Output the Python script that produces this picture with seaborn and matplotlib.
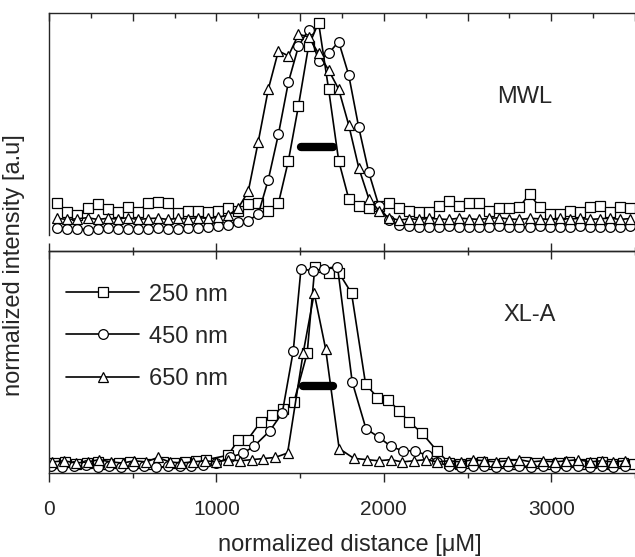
import numpy as np
import pandas as pd
import matplotlib
matplotlib.use('Agg')
import matplotlib.pyplot as plt
from matplotlib.ticker import MultipleLocator
import seaborn as sns

sns.set_style('ticks')
plt.rcParams['font.family'] = ['Liberation Sans', 'DejaVu Sans']

# --- MWL panel (top), intensities normalised to the panel height ---
x_mwl = np.arange(50, 3500, 60)
mwl_250 = [0.142, 0.105, 0.089, 0.121, 0.138, 0.116, 0.105, 0.126, 0.105, 0.142, 0.148, 0.142,
           0.10, 0.11, 0.108, 0.105, 0.11, 0.121,
           0.11, 0.138, 0.142, 0.11, 0.142, 0.335, 0.582, 0.85, 0.957, 0.657, 0.335, 0.164, 0.132,
           0.121, 0.132, 0.142, 0.121, 0.11, 0.105, 0.105, 0.132, 0.153, 0.132, 0.142, 0.142, 0.11,
           0.121, 0.121, 0.126, 0.185, 0.126, 0.094, 0.094, 0.11, 0.105, 0.126, 0.132, 0.105, 0.126, 0.121]
mwl_450 = [0.03, 0.025, 0.028, 0.024, 0.026, 0.03, 0.027, 0.025, 0.028, 0.026, 0.03, 0.028, 0.026,
           0.03, 0.033, 0.035, 0.04,
           0.046, 0.057, 0.064, 0.094, 0.25, 0.453, 0.689, 0.85, 0.925, 0.786, 0.818, 0.871, 0.721,
           0.485, 0.282, 0.132, 0.067, 0.046,
           0.04, 0.038, 0.035, 0.037, 0.04, 0.036, 0.038, 0.035, 0.037, 0.04, 0.036, 0.035, 0.038,
           0.04, 0.036, 0.035, 0.038, 0.04, 0.037, 0.035, 0.038, 0.036, 0.04]
mwl_650 = [0.075, 0.07, 0.073, 0.078, 0.07, 0.075, 0.072, 0.078, 0.07, 0.074, 0.076, 0.07, 0.075,
           0.073, 0.078, 0.075, 0.08,
           0.089, 0.121, 0.196, 0.421, 0.657, 0.829, 0.807, 0.904, 0.893, 0.818, 0.743, 0.657, 0.496,
           0.303, 0.164, 0.11, 0.078, 0.067,
           0.073, 0.07, 0.075, 0.072, 0.07, 0.076, 0.073, 0.07, 0.075, 0.078, 0.072, 0.07, 0.075,
           0.073, 0.07, 0.076, 0.072, 0.075, 0.07, 0.073, 0.076, 0.07, 0.074]

# --- XL-A panel (bottom) ---
x_xla_250 = list(range(30, 1000, 65)) + [1070, 1130, 1186, 1264, 1329, 1400, 1463, 1542, 1588, 1673,
                                         1733, 1807, 1891, 1962, 2026, 2091, 2151, 2228, 2317] \
    + list(range(2390, 3500, 65))
xla_250 = [0.045, 0.05, 0.04, 0.045, 0.05, 0.04, 0.045, 0.05, 0.045, 0.04, 0.05, 0.045, 0.05, 0.055, 0.06,
           0.08, 0.15, 0.15, 0.23, 0.26, 0.29, 0.32, 0.54, 0.93, 0.90,
           0.90, 0.81, 0.40, 0.34, 0.33, 0.28, 0.23, 0.18, 0.10,
           0.045, 0.04, 0.045, 0.05, 0.04, 0.045, 0.04, 0.05, 0.045, 0.04, 0.045, 0.05, 0.04, 0.045,
           0.05, 0.04, 0.045, 0.04]
x_xla_450 = list(range(10, 950, 70)) + [1000, 1080, 1160, 1224, 1319, 1393, 1459, 1505, 1578, 1642,
                                        1723, 1811, 1893, 1972, 2042, 2112, 2185, 2255, 2320] \
    + list(range(2390, 3500, 70))
xla_450 = [0.03, 0.025, 0.03, 0.035, 0.025, 0.03, 0.028, 0.032, 0.03, 0.025, 0.03, 0.033, 0.03, 0.035,
           0.045, 0.07, 0.09, 0.12, 0.19, 0.27, 0.55, 0.92, 0.91, 0.92,
           0.93, 0.41, 0.20, 0.16, 0.12, 0.10, 0.10, 0.08, 0.05,
           0.03, 0.028, 0.032, 0.03, 0.025, 0.03, 0.033, 0.028, 0.03, 0.025, 0.03, 0.032, 0.028, 0.03,
           0.025, 0.03]
x_xla_650 = list(range(20, 1400, 70)) + [1425, 1518, 1584, 1652, 1733, 1821] + list(range(1900, 3500, 70))
xla_650 = [0.05, 0.055, 0.045, 0.05, 0.06, 0.05, 0.045, 0.055, 0.05, 0.07, 0.05, 0.045, 0.05, 0.055,
           0.05, 0.06, 0.055, 0.06, 0.065, 0.07,
           0.09, 0.54, 0.81, 0.56, 0.11, 0.066,
           0.06, 0.055, 0.06, 0.05, 0.055, 0.06, 0.05, 0.055, 0.05, 0.06, 0.055, 0.05, 0.055, 0.06,
           0.05, 0.055, 0.05, 0.055, 0.06, 0.05, 0.055, 0.05, 0.055]

labels = ['250 nm', '450 nm', '650 nm']
markers = ['s', 'o', '^']
msizes = [6.5, 7, 7.5]

# thick horizontal bars (start, end, level)
bar_mwl = (1505, 1695, 0.395)
bar_xla = (1515, 1695, 0.39)

fig = plt.figure(figsize=(6.35, 5.57), dpi=100)
ax1 = fig.add_axes([49 / 635, 1 - 235 / 557, 586 / 635, 222 / 557])
ax2 = fig.add_axes([49 / 635, 1 - 473 / 557, 586 / 635, 222 / 557])

series_top = [(x_mwl, mwl_250), (x_mwl, mwl_450), (x_mwl, mwl_650)]
series_bot = [(x_xla_250, xla_250), (x_xla_450, xla_450), (x_xla_650, xla_650)]

for ax, series, show in [(ax1, series_top, False), (ax2, series_bot, True)]:
    for (xs, ys), lab, mk, ms in zip(series, labels, markers, msizes):
        df = pd.DataFrame({'x': xs, 'y': ys})
        sns.lineplot(data=df, x='x', y='y', ax=ax, color='black', linewidth=1.2,
                     marker=mk, markersize=ms, markerfacecolor='white',
                     markeredgecolor='black', markeredgewidth=0.9,
                     label=lab if show else None, legend=False)
    ax.set_xlim(0, 3500)
    ax.set_ylim(0, 1)
    ax.set_xlabel('')
    ax.set_ylabel('')
    ax.set_yticks([])
    ax.spines['right'].set_visible(False)
    for s in ax.spines.values():
        s.set_linewidth(1.0)

ax1.plot(bar_mwl[:2], [bar_mwl[2]] * 2, color='black', lw=6, solid_capstyle='round')
ax2.plot(bar_xla[:2], [bar_xla[2]] * 2, color='black', lw=6, solid_capstyle='round')

# top panel: ticks only along the top edge
ax1.spines['bottom'].set_visible(False)
ax1.xaxis.set_major_locator(MultipleLocator(500))
ax1.xaxis.set_minor_locator(MultipleLocator(250))
ax1.tick_params(axis='x', which='both', direction='in', top=True, bottom=False,
                labelbottom=False, labeltop=False, width=1.0)
ax1.tick_params(axis='x', which='major', length=6)
ax1.tick_params(axis='x', which='minor', length=3.4)

# bottom panel
ax2.xaxis.set_major_locator(MultipleLocator(1000))
ax2.xaxis.set_minor_locator(MultipleLocator(500))
ax2.tick_params(axis='x', which='both', direction='out', top=False, bottom=True, width=1.0,
                labelsize=15, pad=13)
ax2.tick_params(axis='x', which='major', length=6.5)
ax2.tick_params(axis='x', which='minor', length=3.6)
sec = ax2.secondary_xaxis('top')
sec.xaxis.set_major_locator(MultipleLocator(1000))
sec.xaxis.set_minor_locator(MultipleLocator(500))
sec.tick_params(axis='x', which='both', direction='inout', labeltop=False, width=1.0)
sec.tick_params(axis='x', which='major', length=11.5)
sec.tick_params(axis='x', which='minor', length=6)
sec.spines['top'].set_linewidth(1.0)

ax1.text(2842, 0.62, 'MWL', ha='center', va='center', fontsize=17)
ax2.text(2873, 0.71, 'XL-A', ha='center', va='center', fontsize=17)

ax2.legend(loc='upper left', bbox_to_anchor=(0.029, 0.853), frameon=False, fontsize=17,
           handlelength=3.1, handletextpad=0.4, labelspacing=0.85, borderpad=0,
           borderaxespad=0, numpoints=1)

fig.text(14 / 635, 1 - 265 / 557, 'normalized intensity [a.u]', rotation=90,
         ha='center', va='center', fontsize=17)
fig.text(350 / 635, 1 - 551 / 557, 'normalized distance [\u03bcM]', ha='center',
         va='baseline', fontsize=17)

fig.savefig('out.png', dpi=100)
